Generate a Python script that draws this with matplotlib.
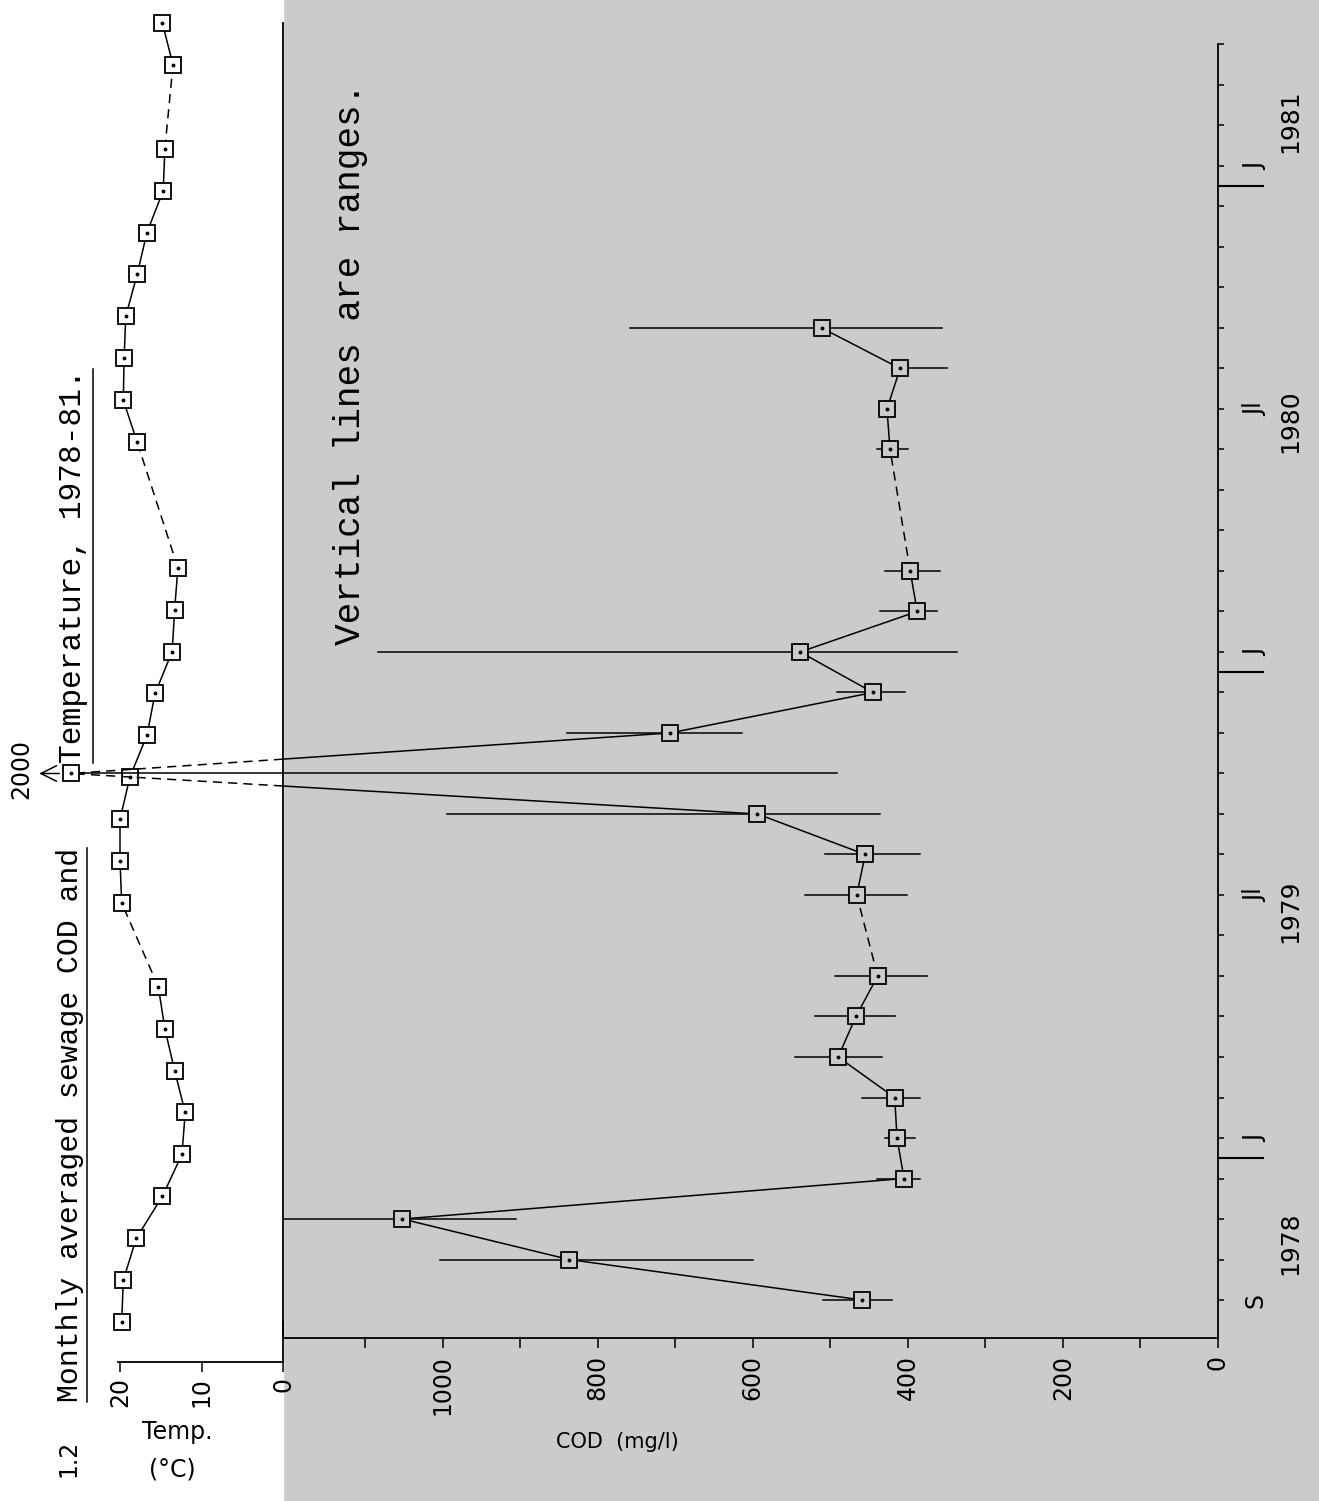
import numpy as np
import matplotlib.pyplot as plt
from matplotlib.patches import Rectangle
from matplotlib.lines import Line2D

W, H = 1319, 1501

# month index: 0 = Sep 1978 ... 31 = Apr 1981
cod_month = [0, 1, 2, 3, 4, 5, 6, 7, 8, 10, 11, 12, 13, 14, 15, 16, 17, 18, 21, 22, 23, 24]
cod_mean = [459, 837, 1052, 405, 414, 417, 490, 467, 439, 466, 455, 594, 2000, 707, 445, 539, 388, 397, 423, 427, 410, 511]
cod_low = [421, 600, 905, 385, 391, 385, 434, 417, 375, 401, 385, 436, 492, 614, 404, 337, 363, 359, 400, 427, 350, 356]
cod_high = [510, 1004, 1250, 440, 430, 459, 546, 520, 494, 533, 507, 995, 2000, 840, 492, 1084, 436, 430, 440, 427, 420, 759]

temp_month = [0, 1, 2, 3, 4, 5, 6, 7, 8, 10, 11, 12, 13, 14, 15, 16, 17, 18,
              21, 22, 23, 24, 25, 26, 27, 28, 30, 31]
temp_c = [19.8, 19.6, 18.0, 14.8, 12.4, 12.0, 13.3, 14.5, 15.3, 19.8, 20.0, 20.0, 18.8, 16.7,
          15.7, 13.6, 13.3, 12.9, 17.9, 19.6, 19.5, 19.3, 17.9, 16.7, 14.7, 14.5, 13.5, 14.8]

month_labels = {0: 'S', 4: 'J', 10: 'Jl', 16: 'J', 22: 'Jl', 28: 'J'}
year_labels = ['1978', '1979', '1980', '1981']
year_pos = [1.4, 9.6, 21.7, 29.1]
year_breaks = [3.5, 15.5, 27.5]

cod_ticks = [0, 200, 400, 600, 800, 1000]
temp_ticks = [20, 10, 0]

cod_offscale = 13      # Oct 1979, printed beyond the scale break
cod_break_pos = 1480   # where that square is put on the COD scale

GREY = '#cbcbcb'
mono = 'Liberation Mono'
sans = 'DejaVu Sans'


def px(x, y):
    return x / W, 1 - y / H


def connect(axis, xs, ys, skip=None):
    for i in range(len(xs) - 1):
        if skip is not None and skip in (i, i + 1):
            continue
        ls = '-' if ys[i + 1] - ys[i] == 1 else (0, (6, 4))
        axis.plot(xs[i:i + 2], ys[i:i + 2], color='k', lw=1.1, ls=ls, zorder=2)


def squares(axis, xs, ys, face):
    axis.plot(xs, ys, ls='none', marker='s', ms=12, mfc=face, mec='k', mew=1.3,
              zorder=4, clip_on=False)
    axis.plot(xs, ys, ls='none', marker='o', ms=1.8, color='k', zorder=5, clip_on=False)


fig = plt.figure(figsize=(W / 100, H / 100), dpi=100, facecolor=GREY)
fig.patches.append(Rectangle((0, 0), 283 / W, 1, transform=fig.transFigure,
                             color='white', zorder=-1))

# ---- temperature panel
axT = fig.add_axes([118 / W, (H - 1362) / H, 165 / W, 1362 / H], facecolor='none')
axT.set_xlim(20.25, 0)
axT.set_ylim(-0.955, 31.55)
for s in ('top', 'left'):
    axT.spines[s].set_visible(False)
axT.spines['right'].set_bounds(-0.955, 0)
for s in axT.spines.values():
    s.set_linewidth(1.3)
axT.set_yticks([])
axT.set_xticks(temp_ticks)
axT.tick_params(axis='x', direction='out', length=7, width=1.1, labelrotation=90,
                labelsize=17, pad=4)

connect(axT, temp_c, temp_month)
squares(axT, temp_c, temp_month, 'white')

# ---- COD panel
ax = fig.add_axes([283 / W, (H - 1338) / H, 935 / W, 1315 / H], facecolor='none')
ax.set_xlim(1206, 0)
ax.set_ylim(-0.938, 31.53)
ax.spines['top'].set_visible(False)
ax.spines['right'].set_bounds(-0.938, 31)
for s in ax.spines.values():
    s.set_linewidth(1.3)

k = cod_month.index(cod_offscale)
xs = [cod_break_pos if i == k else v for i, v in enumerate(cod_mean)]

for i, (m, lo, hi) in enumerate(zip(cod_month, cod_low, cod_high)):
    if i == k:
        ax.plot([lo, cod_break_pos], [m, m], color='k', lw=1.1, clip_on=False, zorder=2)
    else:
        ax.plot([lo, hi], [m, m], color='k', lw=1.1, zorder=2)

connect(ax, cod_mean, cod_month, skip=k)

# lines into the off-scale point: solid inside the panel, dashed past the break
edge = ax.get_xlim()[0]
for j in (k - 1, k + 1):
    v, m = cod_mean[j], cod_month[j]
    t = (edge - v) / (cod_break_pos - v)
    ym = m + t * (cod_offscale - m)
    ax.plot([v, edge], [m, ym], color='k', lw=1.1, zorder=2)
    ax.plot([edge, cod_break_pos], [ym, cod_offscale], color='k', lw=1.1,
            ls=(0, (6, 4)), clip_on=False, zorder=2)

face = [('white' if i == k else GREY) for i in range(len(xs))]
for x, m, f in zip(xs, cod_month, face):
    squares(ax, [x], [m], f)

ax.annotate('', xy=(1524, cod_offscale), xytext=(cod_break_pos + 11, cod_offscale),
            arrowprops=dict(arrowstyle='->', lw=1.1, color='k', mutation_scale=28),
            annotation_clip=False)
ax.text(1543, cod_offscale + 0.1, f'{cod_mean[k]}', rotation=90, ha='center', va='center',
        fontsize=17, family=sans, clip_on=False)

ax.set_xticks(cod_ticks)
ax.set_xticks(range(100, 1101, 200), minor=True)
ax.tick_params(axis='x', which='both', direction='out', length=7, width=1.1)
ax.tick_params(axis='x', labelrotation=90, labelsize=17, pad=5)

ax.yaxis.tick_right()
ax.set_yticks(range(0, 32))
ax.set_yticks(year_breaks, minor=True)
ax.tick_params(axis='y', which='both', left=False, right=True, labelleft=False, labelright=False)
ax.tick_params(axis='y', which='major', direction='out', length=4, width=1.1)
ax.tick_params(axis='y', which='minor', direction='out', length=33, width=1.5)

tr = ax.get_yaxis_transform()
for m, lab in month_labels.items():
    ax.text(1.04, m, lab, transform=tr, rotation=90, ha='center', va='center',
            fontsize=17, family=sans)
for yp, lab in zip(year_pos, year_labels):
    ax.text(1.077, yp, lab, transform=tr, rotation=90, ha='center', va='center',
            fontsize=18, family=sans)

# ---- labels and titles
fig.text(*px(177, 1432), 'Temp.', ha='center', va='center', fontsize=17, family=sans)
fig.text(*px(172, 1470), '(°C)', ha='center', va='center', fontsize=17, family=sans)
fig.text(*px(617, 1442), 'COD  (mg/l)', ha='center', va='center',
         fontsize=15, family=sans)
fig.text(*px(68, 1458), '1.2', rotation=90, ha='center', va='center', fontsize=17,
         family=sans)

t1 = fig.text(*px(84, 1402), 'Monthly averaged sewage COD and', rotation=90,
              ha='right', va='bottom', fontsize=21.5, family=mono)
t2 = fig.text(*px(88, 763), 'Temperature, 1978-81.', rotation=90,
              ha='right', va='bottom', fontsize=22.5, family=mono)
fig.text(*px(350, 645), 'Vertical lines are ranges.', rotation=90,
         ha='center', va='bottom', fontsize=26, family=mono)

fig.canvas.draw()
r = fig.canvas.get_renderer()
for t, gap in ((t1, 3), (t2, 5)):
    bb = t.get_window_extent(r)
    x = bb.x1 + gap
    fig.add_artist(Line2D([x / W, x / W], [bb.y0 / H, bb.y1 / H], transform=fig.transFigure,
                          color='k', lw=1.1))

fig.savefig('out.png', dpi=100, facecolor=fig.get_facecolor())
